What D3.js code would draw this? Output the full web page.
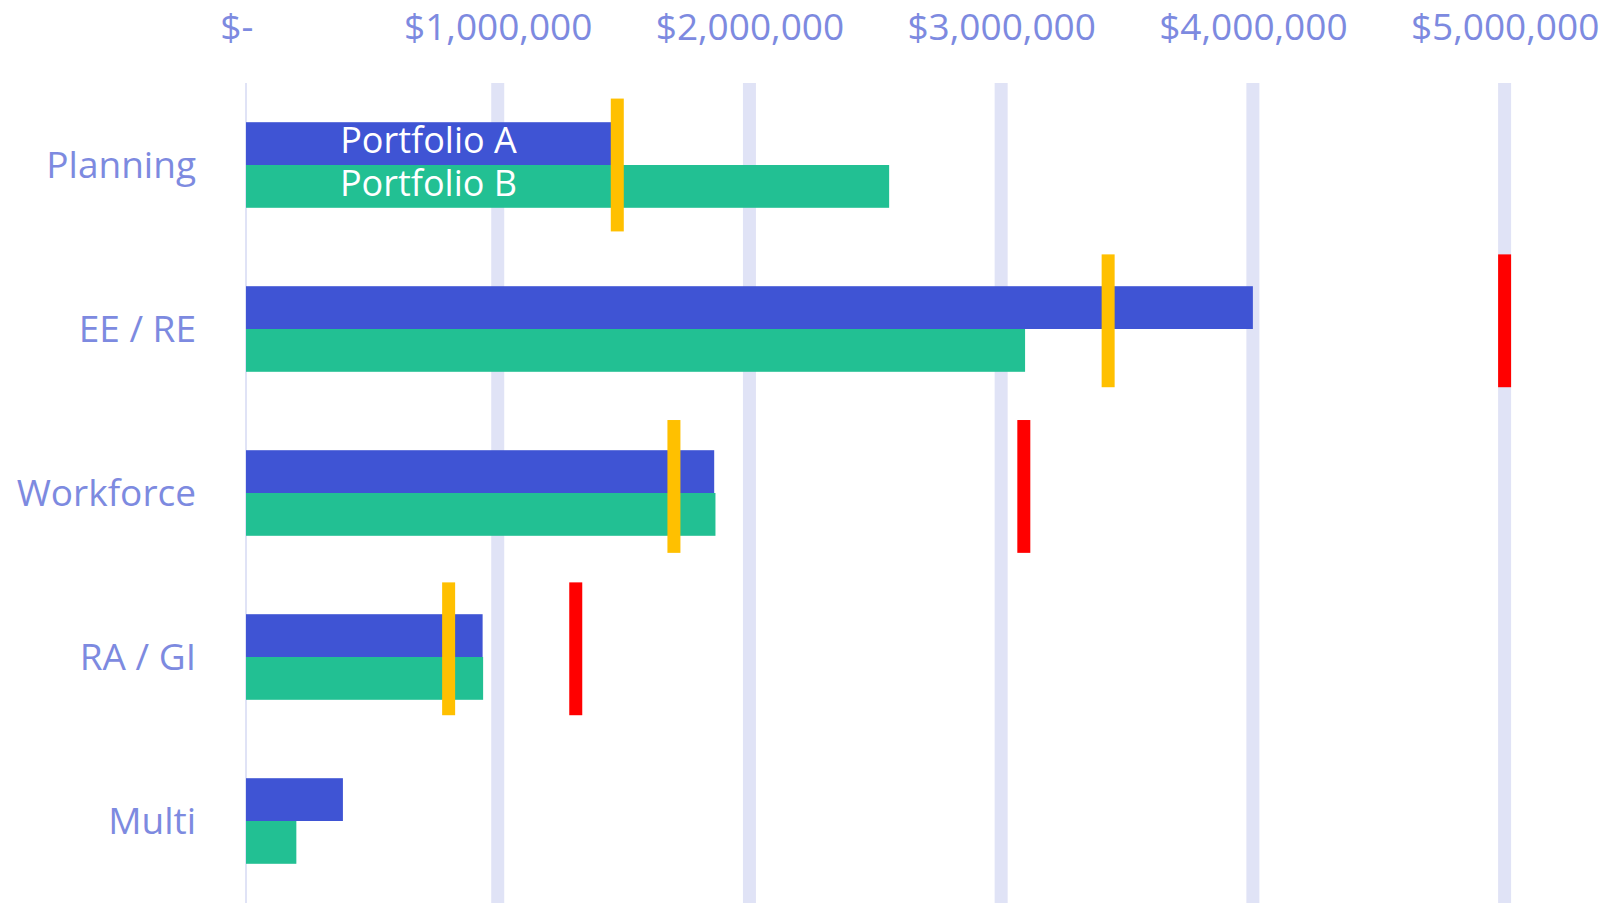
<!DOCTYPE html>
<html>
<head>
<meta charset="utf-8">
<script src="https://cdn.jsdelivr.net/npm/d3@7"></script>
<style>
  html, body { margin: 0; padding: 0; background: #fff; }
  svg { display: block; font-family: "Open Sans", "Noto Sans", sans-serif; }
</style>
</head>
<body>
<svg id="chart" width="1620" height="903"></svg>
<script>
// Datos
const categories = ['Planning', 'EE / RE', 'Workforce', 'RA / GI', 'Multi'];
const portfolioA = [1450000, 4000000, 1860000, 940000, 385000];
const portfolioB = [2555000, 3095000, 1865000, 942000, 200000];
const targetOrange = [1475000, 3425000, 1700000, 805000, null];
const targetRed = [null, 5000000, 3090000, 1310000, null];
// nivel vertical de los marcadores (eje secundario 0-5)
const markerLevel = [4.5, 3.55, 2.54, 1.55, 0.5];
const tickValues = [0, 1000000, 2000000, 3000000, 4000000, 5000000];
const seriesLabels = ['Portfolio A', 'Portfolio B'];

const colors = {
  a: '#3f54d4',
  b: '#22c093',
  orange: '#ffc000',
  red: '#ff0000',
  grid: '#e0e3f6',
  text: '#7d8ae0'
};

const svg = d3.select('#chart');
const width = 1620, height = 903;

const x = d3.scaleLinear().domain([0, 5000000]).range([246, 1504.6]);
const y = d3.scaleBand().domain(categories).range([83, height]).padding(0);
const y2 = d3.scaleLinear().domain([0, 5]).range([height, 83]);
const sub = d3.scaleBand().domain(['A', 'B']).range([0, y.bandwidth()]).paddingInner(0).paddingOuter(0.916);
const markH = y.bandwidth() * 0.81;

// Gridlines
svg.append('g')
  .selectAll('line')
  .data(tickValues.filter(d => d > 0))
  .join('line')
  .attr('x1', d => x(d)).attr('x2', d => x(d))
  .attr('y1', y.range()[0]).attr('y2', height)
  .attr('stroke', colors.grid)
  .attr('stroke-width', 13);

// Eje vertical en cero
svg.append('line')
  .attr('x1', x(0)).attr('x2', x(0))
  .attr('y1', y.range()[0]).attr('y2', height)
  .attr('stroke', colors.grid)
  .attr('stroke-width', 2);

// Eje superior
const fmt = d => d === 0 ? '$-\u00a0\u00a0' : '$' + d3.format(',')(d);
const xAxis = svg.append('g')
  .attr('transform', 'translate(0,40)')
  .call(d3.axisTop(x).tickValues(tickValues).tickFormat(fmt).tickSize(0).tickPadding(0));
xAxis.select('.domain').remove();
xAxis.selectAll('text')
  .attr('fill', colors.text)
  .attr('font-size', 37)
  .attr('font-family', '"Open Sans", sans-serif')
  .attr('dy', 0);

// Eje de categorías
const yAxis = svg.append('g')
  .attr('transform', `translate(${x(0) - 50},0)`)
  .call(d3.axisLeft(y).tickSize(0).tickPadding(0));
yAxis.select('.domain').remove();
yAxis.selectAll('text')
  .attr('fill', colors.text)
  .attr('font-size', 37)
  .attr('font-family', '"Open Sans", sans-serif')
  .attr('dy', '0.35em');

// Barras
const bars = svg.append('g');
bars.selectAll('rect.a')
  .data(categories)
  .join('rect')
  .attr('class', 'a')
  .attr('x', x(0))
  .attr('y', d => y(d) + sub('A'))
  .attr('width', (d, i) => x(portfolioA[i]) - x(0))
  .attr('height', sub.bandwidth())
  .attr('fill', colors.a);

bars.selectAll('rect.b')
  .data(categories)
  .join('rect')
  .attr('class', 'b')
  .attr('x', x(0))
  .attr('y', d => y(d) + sub('B'))
  .attr('width', (d, i) => x(portfolioB[i]) - x(0))
  .attr('height', sub.bandwidth())
  .attr('fill', colors.b);

// Marcadores
function drawMarkers(values, color) {
  svg.append('g')
    .selectAll('rect')
    .data(categories.map((c, i) => ({ c, v: values[i], lvl: markerLevel[i] })).filter(d => d.v != null))
    .join('rect')
    .attr('x', d => x(d.v) - 6.5)
    .attr('y', d => y2(d.lvl) - markH / 2)
    .attr('width', 13)
    .attr('height', markH)
    .attr('fill', color);
}
drawMarkers(targetOrange, colors.orange);
drawMarkers(targetRed, colors.red);

// Etiquetas de series
const labelX = (x(0) + x(portfolioA[0])) / 2;
svg.append('g')
  .selectAll('text')
  .data(seriesLabels)
  .join('text')
  .attr('x', labelX)
  .attr('y', (d, i) => y(categories[0]) + sub(i === 0 ? 'A' : 'B') + sub.bandwidth() / 2)
  .attr('dy', '0.27em')
  .attr('text-anchor', 'middle')
  .attr('fill', '#fff')
  .attr('font-size', 36)
  .text(d => d);
</script>
</body>
</html>
